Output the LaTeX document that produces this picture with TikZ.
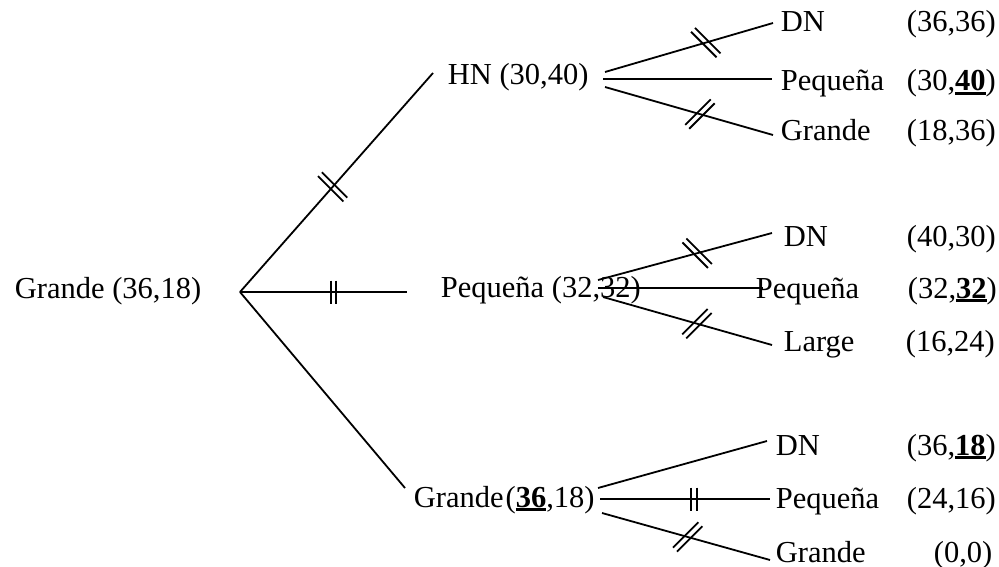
\documentclass[tikz,border=0pt]{standalone}
\usepackage{fontspec}
\setmainfont{Liberation Serif}
% bold payoff with a heavy underline
\newsavebox\ulbox
\newcommand\ubf[1]{\sbox\ulbox{\textbf{#1}}\rlap{\rule[-4pt]{\wd\ulbox}{2.6pt}}\usebox\ulbox}
\begin{document}
\begin{tikzpicture}[x=1pt,y=-1pt,line width=1.8pt,
  lbl/.style={anchor=base west,inner sep=0pt,font=\fontsize{30.5}{36}\selectfont},
  bars/.pic={\draw[line width=1.8pt] (-2.8,-#1) -- (-2.8,#1) (2.8,-#1) -- (2.8,#1);}]
\useasboundingbox (0,0) rectangle (999,567);

% first mover and the three second-stage choices
\node[lbl] (root) at (14,298) {Grande (36,18)};
\node[lbl] (hn) at (447,85) {HN (30,40)};
\node[lbl] (pq) at (440,297) {Pequeña (32,32)};
\node[lbl] (gr) at (413,507) {Grande\hspace{2pt}(\ubf{36},18)};

% leaves after HN
\node[lbl] (hndn) at (780,32) {DN};
\node[lbl] (hnpq) at (780,91) {Pequeña};
\node[lbl] (hngr) at (780,141) {Grande};
\node[lbl] (hndnp) at (906,32) {(36,36)};
\node[lbl] (hnpqp) at (906,91) {(30,\ubf{40})};
\node[lbl] (hngrp) at (906,141) {(18,36)};

% leaves after Pequeña
\node[lbl] (pqdn) at (783,246) {DN};
\node[lbl] (pqpq) at (755,298) {Pequeña};
\node[lbl] (pqlg) at (783,351) {Large};
\node[lbl] (pqdnp) at (906,246) {(40,30)};
\node[lbl] (pqpqp) at (907,298) {(32,\ubf{32})};
\node[lbl] (pqlgp) at (905,351) {(16,24)};

% leaves after Grande
\node[lbl] (grdn) at (775,455) {DN};
\node[lbl] (grpq) at (775,508) {Pequeña};
\node[lbl] (grgr) at (775,562) {Grande};
\node[lbl] (grdnp) at (906,455) {(36,\ubf{18})};
\node[lbl] (grpqp) at (906,508) {(24,16)};
\node[lbl] (grgrp) at (933,562) {(0,0)};

% branch end points
\coordinate (r) at (240,292);
\coordinate (hnin) at (433,73);
\coordinate (pqin) at (407,292);
\coordinate (grin) at (405,488);

\coordinate (hno1) at (605,72);
\coordinate (hno2) at (603,79);
\coordinate (hno3) at (605,87);
\coordinate (hni1) at (773,23);
\coordinate (hni2) at (772,79);
\coordinate (hni3) at (773,135);

\coordinate (pqo1) at (598,280);
\coordinate (pqo2) at (598,288);
\coordinate (pqo3) at (603,297);
\coordinate (pqi1) at (772,233);
\coordinate (pqi2) at (763,288);
\coordinate (pqi3) at (772,345);

\coordinate (gro1) at (598,488);
\coordinate (gro2) at (600,499);
\coordinate (gro3) at (602,513);
\coordinate (gri1) at (767,441);
\coordinate (gri2) at (770,499);
\coordinate (gri3) at (770,560);

% first stage branches
\draw (r) -- (hnin) pic[pos=0.48,rotate=45] {bars=18};
\draw (r) -- (pqin) pic[pos=0.56] {bars=11.5};
\draw (r) -- (grin);

% second stage branches
\draw (hno1) -- (hni1) pic[pos=0.6,rotate=45] {bars=18};
\draw (hno2) -- (hni2);
\draw (hno3) -- (hni3) pic[pos=0.565,rotate=-45] {bars=18};

\draw (pqo1) -- (pqi1) pic[pos=0.57,rotate=45] {bars=18};
\draw (pqo2) -- (pqi2);
\draw (pqo3) -- (pqi3) pic[pos=0.556,rotate=-45] {bars=18};

\draw (gro1) -- (gri1);
\draw (gro2) -- (gri2) pic[pos=0.553] {bars=11.5};
\draw (gro3) -- (gri3) pic[pos=0.51,rotate=-45] {bars=18};
\end{tikzpicture}
\end{document}
